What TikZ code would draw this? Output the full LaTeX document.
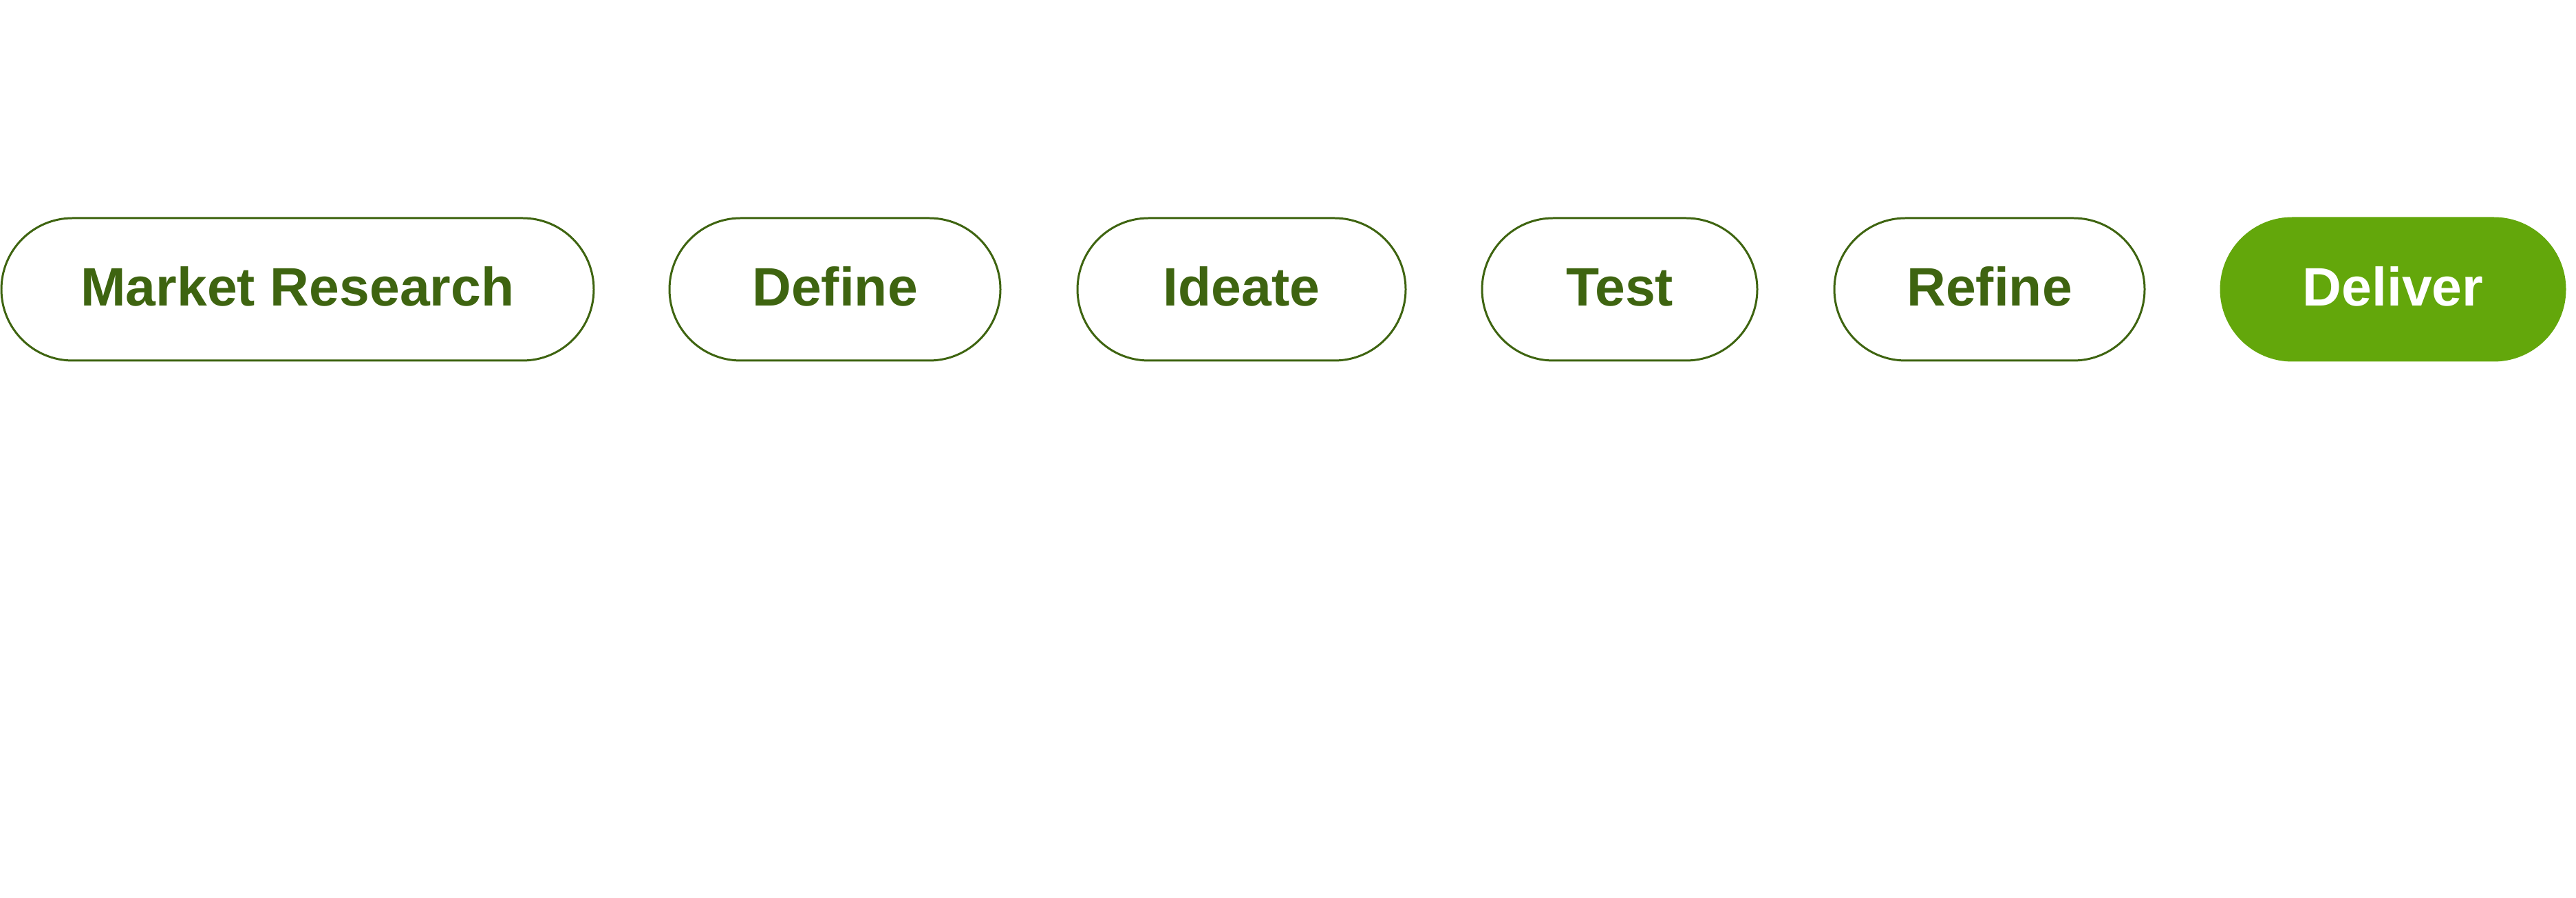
\documentclass[tikz,border=0pt]{standalone}
\usepackage{fontspec}
\setmainfont{Liberation Sans}
\definecolor{dgreen}{HTML}{3E6410}
\definecolor{fgreen}{HTML}{63A70B}
\begin{document}
\begin{tikzpicture}[x=1cm,y=1cm,
  pill/.style={draw=dgreen, line width=0.85pt, fill=white, rounded corners=1.035cm,
    minimum height=2.07cm, inner sep=0pt, text=dgreen,
    font=\fontsize{22.4}{22.4}\selectfont\bfseries, text height=0.57cm, text depth=0.08cm},
  pillfill/.style={pill, draw=fgreen, fill=fgreen, text=white}]
\useasboundingbox (0,0) rectangle (37.44,13.05);
\node[pill, minimum width=8.61cm] (mr) at (4.325,8.845) {Market Research};
\node[pill, minimum width=4.81cm] (define) at (12.135,8.845) {Define};
\node[pill, minimum width=4.77cm] (ideate) at (18.045,8.845) {Ideate};
\node[pill, minimum width=4.00cm] (test) at (23.54,8.845) {Test};
\node[pill, minimum width=4.51cm] (refine) at (28.915,8.845) {Refine};
\node[pillfill, minimum width=5.00cm] (deliver) at (34.78,8.845) {Deliver};
\end{tikzpicture}
\end{document}
